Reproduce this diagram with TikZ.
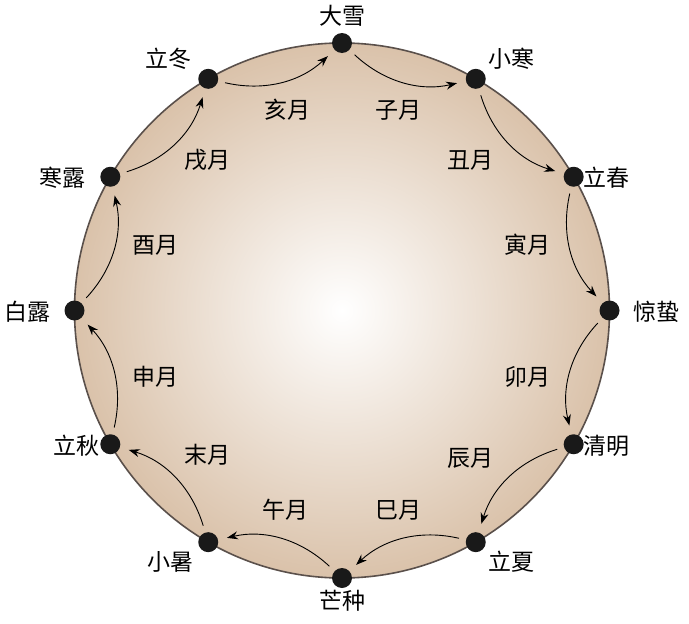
\documentclass[tikz,border=0pt]{standalone}
\usepackage{fontspec}
\setmainfont{Noto Sans CJK SC}
\usetikzlibrary{arrows.meta}
\begin{document}
\begin{tikzpicture}[x=1pt,y=-1pt,
  dot/.style={circle,fill=black!90,inner sep=0pt,minimum size=20pt},
  lab/.style={font=\fontsize{23}{23}\selectfont,inner sep=0pt},
  arr/.style={-{Stealth[length=11pt,width=8pt]},line width=0.9pt,bend right=28,shorten <=7pt,shorten >=9pt}]
\useasboundingbox (0,0) rectangle (689,624);
\shade[inner color=white,outer color={rgb,255:red,218;green,194;blue,170},draw={rgb,255:red,90;green,80;blue,75},line width=1.6pt] (342,310.5) circle (267.5);
\foreach \n/\a in {p0/90,p1/60,p2/30,p3/0,p4/-30,p5/-60,p6/-90,p7/-120,p8/-150,p9/180,p10/150,p11/120}
  \node[dot] (\n) at ({342+267.5*cos(\a)},{310.5-267.5*sin(\a)}) {};
\node[lab] (t0) at (342,16) {大雪};
\node[lab] (t1) at (511,59) {小寒};
\node[lab] (t2) at (606,178) {立春};
\node[lab] (t3) at (656,312) {惊蛰};
\node[lab] (t4) at (606,446) {清明};
\node[lab] (t5) at (511,562) {立夏};
\node[lab] (t6) at (342,601) {芒种};
\node[lab] (t7) at (170,562) {小暑};
\node[lab] (t8) at (76,446) {立秋};
\node[lab] (t9) at (28,312) {白露};
\node[lab] (t10) at (62,178) {寒露};
\node[lab] (t11) at (168,59) {立冬};
\node[lab] (m11) at (287,110) {亥月};
\node[lab] (m0) at (398,110) {子月};
\node[lab] (m1) at (470,160) {丑月};
\node[lab] (m2) at (527,245) {寅月};
\node[lab] (m3) at (527,377) {卯月};
\node[lab] (m4) at (470,458) {辰月};
\node[lab] (m5) at (398,510) {巳月};
\node[lab] (m6) at (285,510) {午月};
\node[lab] (m7) at (207,455) {末月};
\node[lab] (m8) at (155,377) {申月};
\node[lab] (m9) at (155,245) {酉月};
\node[lab] (m10) at (207,160) {戌月};
\foreach \a/\b in {p11/p0,p0/p1,p1/p2,p2/p3,p3/p4,p4/p5,p5/p6,p6/p7,p7/p8,p8/p9,p9/p10,p10/p11}
  \draw[arr] (\a) to (\b);
\end{tikzpicture}
\end{document}
